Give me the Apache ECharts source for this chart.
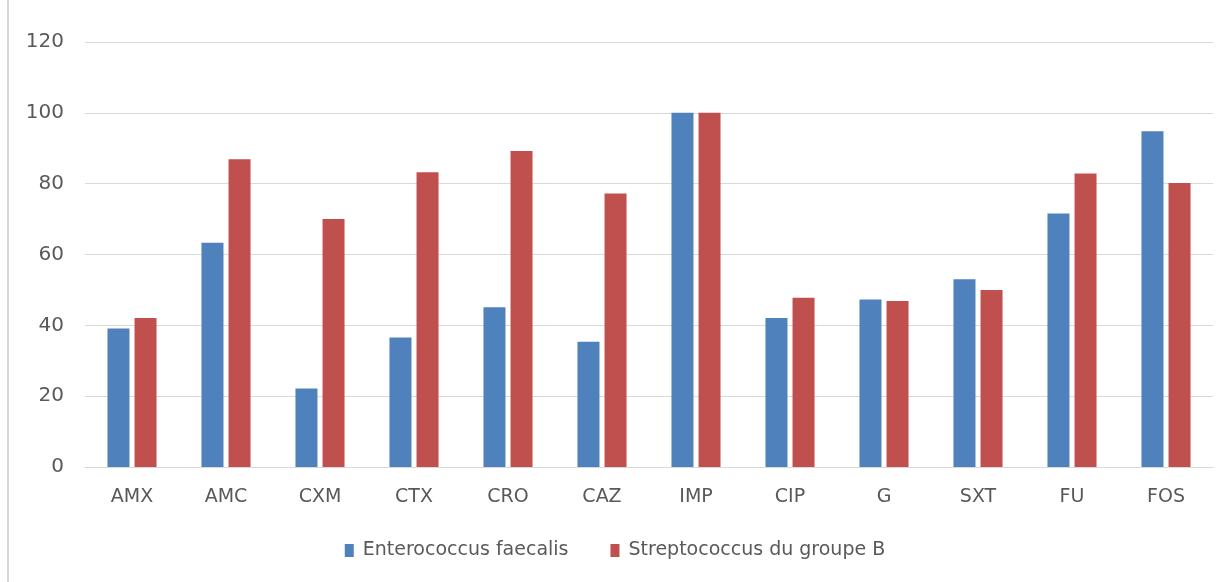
<!DOCTYPE html>
<html>
<head>
<meta charset="utf-8">
<script src="https://cdn.jsdelivr.net/npm/echarts@6/dist/echarts.min.js"></script>
<style>
  html,body{margin:0;padding:0;background:#fff;}
  #chart{width:1230px;height:582px;position:relative;}
  .frame{position:absolute;left:7px;top:0;width:2px;height:582px;background:#d9d9d9;}
</style>
</head>
<body>
<div class="frame"></div>
<div id="chart"></div>
<script>
const categories = ["AMX","AMC","CXM","CTX","CRO","CAZ","IMP","CIP","G","SXT","FU","FOS"]
const enterococcus = [39.1,63.3,22.2,36.6,45.1,35.4,100,42.1,47.3,53.0,71.6,94.8]
const streptoB = [42.1,86.9,70.0,83.2,89.2,77.2,100,47.8,46.9,50.0,82.9,80.2]
const seriesNames = ["Enterococcus faecalis","Streptococcus du groupe B"]

let myChart = echarts.init(document.getElementById("chart"))
myChart.setOption({
    textStyle:{
        fontFamily:"DejaVu Sans"
    },
    grid:{
        left:85,
        right:17,
        top:42,
        bottom:115
    },
    legend:{
        bottom:17,
        left:"center",
        itemWidth:9,
        itemHeight:13,
        itemGap:42,
        icon:"rect",
        textStyle:{
            color:"#595959",
            fontSize:19,
            padding:[0,0,0,4]
        },
        data:seriesNames
    },
    xAxis:{
        type:"category",
        data:categories,
        axisLine:{
            lineStyle:{
                color:"#d9d9d9"
            }
        },
        axisTick:{show:false},
        axisLabel:{
            color:"#595959",
            fontSize:19,
            margin:21
        }
    },
    yAxis:{
        type:"value",
        min:0,
        max:120,
        interval:20,
        axisLine:{show:false},
        axisTick:{show:false},
        splitLine:{
            lineStyle:{
                color:"#d9d9d9"
            }
        },
        axisLabel:{
            color:"#595959",
            fontSize:20,
            margin:21
        }
    },
    series:[
        {
            type:"bar",
            name:seriesNames[0],
            data:enterococcus,
            barWidth:22,
            barGap:"23%",
            itemStyle:{
                color:"#4f81bd"
            }
        },
        {
            type:"bar",
            name:seriesNames[1],
            data:streptoB,
            barWidth:22,
            barGap:"23%",
            itemStyle:{
                color:"#c0504d"
            }
        }
    ]
})
</script>
</body>
</html>
